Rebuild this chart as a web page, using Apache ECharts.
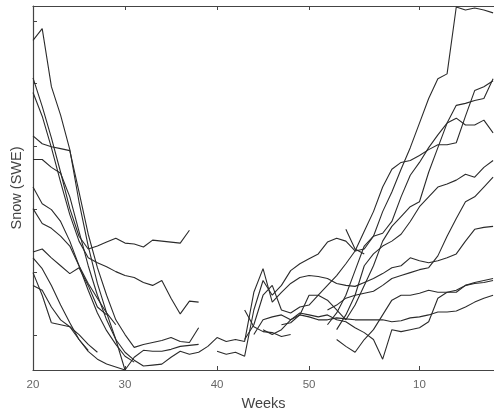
<!DOCTYPE html>
<html>
<head>
<meta charset="utf-8">
<script src="https://cdn.jsdelivr.net/npm/echarts@6/dist/echarts.min.js"></script>
<style>
  html, body { margin: 0; padding: 0; background: #fff; }
  #chart { width: 494px; height: 416px; }
</style>
</head>
<body>
<div id="chart"></div>
<script>
// Weekly snow water equivalent traces, one array per season segment.
// Each point is [week, SWE]; weeks past 52 continue into the next year.
const seasonA = [[20,335],[21,347],[22,288],[23,259],[24,224],[25,171],[26,126],[27,88],[28,58],[29,31],[30,0],[31,13],[32,20],[33,19],[34,19],[35,21],[36,24],[37,25],[38,26]];
const seasonB = [[20,297],[21,268],[22,236],[23,201],[24,164],[25,136],[26,123],[27,126],[28,130],[29,134],[30,129],[31,128],[32,125],[33,132],[34,131],[35,130],[36,129],[37,142]];
const seasonC = [[20,282],[21,258],[22,226],[23,191],[24,158],[25,131],[26,114],[27,109],[28,105],[29,100],[30,96],[31,94],[32,89],[33,86],[34,91],[35,73],[36,57],[37,70],[38,69]];
const seasonD = [[20,238],[21,230],[22,227],[23,225],[24,223],[25,181],[26,138],[27,104],[28,76],[29,51],[30,36],[31,23],[32,26],[33,28],[34,30],[35,33],[36,29],[37,28],[38,43]];
const seasonE = [[20,214],[21,214],[22,206],[23,200],[24,176],[25,141],[26,106],[27,76],[28,51],[29,31],[30,18],[31,10],[32,4],[33,5],[34,6],[35,13],[36,19],[37,16],[38,18],[39,24],[40,33],[41,29],[42,31],[43,29],[44,79],[45,103],[46,69],[47,79],[48,88],[49,94],[50,96],[51,95],[52,93],[53,88],[54,86],[55,85],[56,89],[57,93],[58,98],[59,104],[60,106],[61,114],[62,111],[63,109],[64,111],[65,114],[66,118],[67,131],[68,143],[69,145],[70,146]];
const seasonF = [[20,186],[21,169],[22,163],[23,151],[24,131],[25,106],[26,81],[27,58],[28,40],[29,26],[30,14],[31,8]];
const seasonG = [[20,164],[21,149],[22,144],[23,136],[24,126],[25,106],[26,88],[27,73],[28,58],[29,46]];
const seasonH = [[20,120],[21,123],[22,114],[23,106],[24,98],[25,104],[26,86],[27,64],[28,56]];
const seasonI = [[20,114],[21,103],[22,86],[23,66],[24,48],[25,31],[26,19],[27,11],[28,6],[29,3],[30,0]];
const seasonJ = [[20,99],[21,76],[22,48]];
const seasonK = [[20,86],[21,81],[22,64],[23,51],[24,44],[25,31],[26,20]];
const seasonL = [[22,48],[23,46],[24,44],[25,36],[26,26],[27,18]];
const seasonM = [[40,19],[41,16],[42,18],[43,14],[44,61],[45,91],[46,76],[47,86],[48,101],[49,108],[50,113],[51,118],[52,130],[53,134],[54,131],[55,121],[56,123],[57,136],[58,161],[59,181],[60,204],[61,226],[62,251],[63,276],[64,296],[65,301],[66,369],[67,366],[68,368],[69,366],[70,363]];
const seasonN = [[43,61],[44,44],[45,39],[46,38],[47,34],[48,36]];
const seasonO = [[43,31],[44,46],[45,76],[46,86],[47,61],[48,58],[49,64],[50,66],[51,76],[52,86],[53,96],[54,108],[55,121],[56,141],[57,161],[58,186],[59,204],[60,211],[61,213],[62,218],[63,224],[64,229],[65,229],[66,231],[67,258],[68,284],[69,288],[70,294]];
const seasonP = [[44,36],[45,51],[46,54],[47,56],[48,51],[49,56],[50,76],[51,76],[52,71],[53,61],[54,51],[55,66],[56,86],[57,106],[58,131],[59,146],[60,156],[61,166],[62,171],[63,201],[64,226],[65,251],[66,256],[67,249],[68,249],[69,254],[70,241]];
const seasonQ = [[45,41],[46,36],[47,41],[48,51],[49,58],[50,56],[51,54],[52,56],[53,51],[54,49],[55,43],[56,38],[57,31],[58,11],[59,41],[60,39],[61,41],[62,43],[63,49],[64,73],[65,79],[66,81],[67,86],[68,88],[69,89],[70,91]];
const seasonR = [[47,46],[48,48],[49,56],[50,54],[51,51],[52,51],[53,53],[54,52],[55,51],[56,51],[57,51],[58,51],[59,49],[60,50],[61,53],[62,54],[63,56],[64,59],[65,59],[66,60],[67,64],[68,69],[69,73],[70,76]];
const seasonS = [[53,31],[54,24],[55,18],[56,31],[57,41],[58,56],[59,71],[60,76],[61,76],[62,78],[63,81],[64,79],[65,79],[66,79],[67,86],[68,89],[69,91],[70,93]];
const seasonT = [[52,61],[53,66],[54,73],[55,76],[56,78],[57,80],[58,86],[59,93],[60,96],[61,99],[62,102],[63,104],[64,116],[65,136],[66,154],[67,171],[68,176],[69,186],[70,196]];
const seasonU = [[53,41],[54,56],[55,76],[56,106],[57,118],[58,126],[59,131],[60,138],[61,151],[62,166],[63,176],[64,186],[65,189],[66,193],[67,199],[68,196],[69,206],[70,213]];
const seasonV = [[52,46],[53,58],[54,76],[55,101],[56,126],[57,136],[58,139],[59,151],[60,176],[61,198],[62,211],[63,226],[64,239],[65,251],[66,269],[67,271],[68,274],[69,276],[70,296]];
const seasonW = [[54,143],[55,123],[56,118]];

const seasons = [seasonA, seasonB, seasonC, seasonD, seasonE, seasonF, seasonG, seasonH,
  seasonI, seasonJ, seasonK, seasonL, seasonM, seasonN, seasonO, seasonP, seasonQ,
  seasonR, seasonS, seasonT, seasonU, seasonV, seasonW];

// Tick positions: week 62 is week 10 of the following year
const weekTicks = [20, 30, 40, 50, 62];
const sweTicks = [35, 99, 163, 227, 291, 355];

const axisColor = '#444';
const font = '"Liberation Sans", Arial, Helvetica, sans-serif';

const chart = echarts.init(document.getElementById('chart'), null, { renderer: 'canvas' });

chart.setOption({
  animation: false,
  backgroundColor: '#fff',
  grid: { left: 33, right: 0, top: 6, bottom: 40, containLabel: false },
  xAxis: [
    {
      type: 'value', min: 20, max: 70.1, position: 'bottom',
      name: 'Weeks', nameLocation: 'middle', nameGap: 26,
      nameTextStyle: { color: '#444', fontSize: 14.5, fontFamily: font },
      axisLine: { show: true, onZero: false, lineStyle: { color: axisColor, width: 1.2 } },
      axisTick: { show: true, inside: true, length: 4, customValues: weekTicks, lineStyle: { color: axisColor } },
      axisLabel: {
        show: true, customValues: weekTicks, margin: 9, color: '#666', fontSize: 11.5, fontFamily: font,
        formatter: v => String(v > 52 ? v - 52 : v)
      },
      splitLine: { show: false }
    },
    {
      type: 'value', min: 20, max: 70.1, position: 'top',
      axisLine: { show: true, onZero: false, lineStyle: { color: axisColor, width: 1.2 } },
      axisTick: { show: true, inside: true, length: 4, customValues: weekTicks, lineStyle: { color: axisColor } },
      axisLabel: { show: false },
      splitLine: { show: false }
    }
  ],
  yAxis: {
    type: 'value', min: 0, max: 370,
    name: 'Snow (SWE)', nameLocation: 'middle', nameGap: 9, nameRotate: 90,
    nameTextStyle: { color: '#444', fontSize: 14.5, fontFamily: font },
    axisLine: { show: true, onZero: false, lineStyle: { color: axisColor, width: 1.2 } },
    axisTick: { show: true, inside: true, length: 4, customValues: sweTicks, lineStyle: { color: axisColor } },
    axisLabel: { show: false },
    splitLine: { show: false }
  },
  series: seasons.map(s => ({
    type: 'line',
    data: s,
    xAxisIndex: 0,
    symbol: 'none',
    silent: true,
    clip: true,
    lineStyle: { color: '#2b2b2b', width: 1.1 }
  }))
});
</script>
</body>
</html>
